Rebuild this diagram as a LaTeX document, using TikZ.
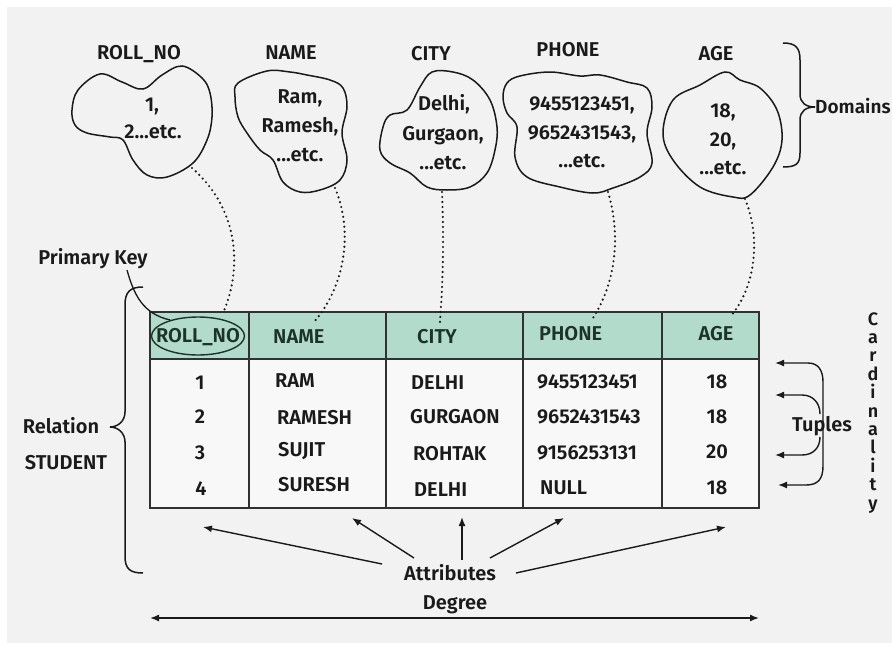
\documentclass[tikz,border=0pt]{standalone}
\usepackage{fontspec}
\IfFontExistsTF{Fira Sans SemiBold}{\setmainfont{Fira Sans SemiBold}}{\IfFontExistsTF{Fira Sans Medium}{\setmainfont{Fira Sans Medium}}{\setmainfont{Fira Sans}}}
\usetikzlibrary{arrows.meta,shapes.geometric}
\definecolor{bggray}{HTML}{F2F2F2}
\definecolor{hdrgreen}{HTML}{B3DBCB}
\definecolor{bodyw}{HTML}{F8F8F8}
\definecolor{ink}{HTML}{1A1A1A}
\definecolor{dgreen}{HTML}{1C3329}
\begin{document}
\begin{tikzpicture}[x=1pt,y=-1pt,
  lbl/.style={font=\fontsize{20}{24}\selectfont, text=ink, inner sep=0pt, text height=13.8pt, text depth=0pt},
  hdr/.style={lbl, text=dgreen},
  cardl/.style={font=\fontsize{18}{20}\selectfont, text=ink, inner sep=0pt, anchor=base},
  blob/.style={draw=ink, line width=1.5pt},
  dots/.style={draw=ink, line width=2.4pt, dash pattern=on 0pt off 5pt, line cap=round},
  tbl/.style={draw=ink!90, line width=1.6pt},
  arr/.style={draw=ink, line width=1.4pt, -{Latex[length=9pt,width=7pt]}},
  darr/.style={draw=ink, line width=1.4pt, {Latex[length=9pt,width=7pt]}-{Latex[length=9pt,width=7pt]}},
  brace/.style={draw=ink, line width=1.5pt},
]
\useasboundingbox (0,0) rectangle (892,645);
\fill[white] (0,0) rectangle (892,645);
\fill[bggray] (7,7) rectangle (892,643);

% ---------- domains ----------
\node[lbl] (dl1) at (139,53) {ROLL\_NO};
\node[lbl] (dl2) at (291,53) {NAME};
\node[lbl] (dl3) at (431,54) {CITY};
\node[lbl] (dl4) at (568,50) {PHONE};
\node[lbl] (dl5) at (716,54) {AGE};

\draw[blob] plot[smooth cycle, tension=0.6] coordinates {(72,110) (78,90) (100,74) (122,82) (143,89) (162,75) (182,66) (202,78) (210,93) (212,117) (207,140) (193,163) (167,177) (147,175) (133,160) (123,140) (110,137) (87,133) (75,125)};
\draw[blob] plot[smooth cycle, tension=0.6] coordinates {(238,83) (267,71) (290,72) (307,75) (330,80) (343,88) (347,107) (342,133) (347,160) (340,180) (320,190) (300,192) (283,182) (273,160) (260,150) (247,133) (238,117) (235,97)};
\draw[blob] plot[smooth cycle, tension=0.6] coordinates {(432,72) (420,87) (407,110) (390,115) (383,127) (380,150) (390,163) (410,173) (427,187) (447,190) (470,187) (487,173) (495,150) (497,127) (490,100) (473,80) (453,72)};
\draw[blob] plot[smooth cycle, tension=0.6] coordinates {(503,97) (507,83) (520,76) (550,72) (580,76) (600,75) (627,82) (647,88) (652,107) (647,133) (652,163) (640,177) (613,188) (593,193) (560,187) (527,177) (515,157) (517,127) (507,113)};
\draw[blob] plot[smooth cycle, tension=0.6] coordinates {(663,133) (673,100) (700,85) (725,72) (740,80) (760,88) (777,110) (782,140) (773,167) (750,195) (733,197) (700,187) (673,160)};

\node[lbl] (b1a) at (152,105) {1,};
\node[lbl] (b1b) at (153,132) {2...etc.};
\node[lbl] (b2a) at (300,97) {Ram,};
\node[lbl] (b2b) at (300,126) {Ramesh,};
\node[lbl] (b2c) at (300,155) {...etc.};
\node[lbl] (b3a) at (444,104) {Delhi,};
\node[lbl] (b3b) at (443,134) {Gurgaon,};
\node[lbl] (b3c) at (443,163) {...etc.};
\node[lbl] (b4a) at (582,104) {9455123451,};
\node[lbl] (b4b) at (582,133) {9652431543,};
\node[lbl] (b4c) at (582,161) {...etc.};
\node[lbl] (b5a) at (723,111) {18,};
\node[lbl] (b5b) at (723,140) {20,};
\node[lbl] (b5c) at (723,168) {...etc.};

% Domains brace
\draw[brace] (783,43) .. controls (796,43) and (800,48) .. (800,60) -- (800,94) .. controls (800,103) and (806,107) .. (815,107) .. controls (806,107) and (800,111) .. (800,120) -- (800,153) .. controls (800,164) and (796,167) .. (783,167);
\node[lbl, font=\fontsize{19}{23}\selectfont, anchor=west] (dom) at (815,107) {Domains};

% ---------- table ----------
\fill[hdrgreen] (150,312) rectangle (759,359);
\fill[bodyw] (150,359) rectangle (759,508);
\draw[tbl] (150,312) rectangle (759,508);
\draw[tbl] (150,359) -- (759,359);
\foreach \cx in {249,386,523,662} \draw[tbl] (\cx,312) -- (\cx,508);

\node[hdr] (h1) at (198,336) {ROLL\_NO};
\node[draw=dgreen, line width=1.4pt, ellipse, minimum width=93pt, minimum height=38pt, inner sep=0pt] (pk) at (198,336) {};
\node[hdr, anchor=west] (h2) at (273,337) {NAME};
\node[hdr, anchor=west] (h3) at (417,337) {CITY};
\node[hdr, anchor=west] (h4) at (539,334) {PHONE};
\node[hdr] (h5) at (716,334) {AGE};

\node[lbl] (r11) at (200,383) {1};
\node[lbl] (r21) at (200,417) {2};
\node[lbl] (r31) at (200,453) {3};
\node[lbl] (r41) at (201,489) {4};
\node[lbl, anchor=west] (r12) at (275,381) {RAM};
\node[lbl, anchor=west] (r22) at (277,418) {RAMESH};
\node[lbl, anchor=west] (r32) at (278,450) {SUJIT};
\node[lbl, anchor=west] (r42) at (278,485) {SURESH};
\node[lbl, anchor=west] (r13) at (411,383) {DELHI};
\node[lbl, anchor=west] (r23) at (410,417) {GURGAON};
\node[lbl, anchor=west] (r33) at (413,454) {ROHTAK};
\node[lbl, anchor=west] (r43) at (414,490) {DELHI};
\node[lbl, anchor=west] (r14) at (537,382) {9455123451};
\node[lbl, anchor=west] (r24) at (537,417) {9652431543};
\node[lbl, anchor=west] (r34) at (537,453) {9156253131};
\node[lbl, anchor=west] (r44) at (540,488) {NULL};
\node[lbl] (r15) at (717,382) {18};
\node[lbl] (r25) at (717,417) {18};
\node[lbl] (r35) at (717,452) {20};
\node[lbl] (r45) at (717,488) {18};

% ---------- dotted domain connectors ----------
\coordinate (d1) at (192,168); \coordinate (e1) at (223,313);
\coordinate (d2) at (335,188); \coordinate (e2) at (314,322);
\coordinate (d3) at (442,192); \coordinate (e3) at (440,322);
\coordinate (d4) at (608,192); \coordinate (e4) at (593,318);
\coordinate (d5) at (745,199); \coordinate (e5) at (730,317);
\draw[dots] (d1) .. controls (240,210) and (242,270) .. (e1);
\draw[dots] (d2) .. controls (353,230) and (346,285) .. (e2);
\draw[dots] (d3) .. controls (444,240) and (443,280) .. (e3);
\draw[dots] (d4) .. controls (621,235) and (616,282) .. (e4);
\draw[dots] (d5) .. controls (761,237) and (756,287) .. (e5);

% ---------- primary key ----------
\node[lbl] (pkl) at (93,258) {Primary Key};
\coordinate (pks) at (127,270);
\draw[draw=ink, line width=1.3pt] (pks) .. controls (134,295) and (143,314) .. (pk.150);

% ---------- relation brace ----------
\draw[brace] (143,287) .. controls (130,287) and (125,292) .. (125,305) -- (125,412) .. controls (125,421) and (118,427) .. (110,427) .. controls (118,427) and (125,433) .. (125,442) -- (125,556) .. controls (125,569) and (130,573) .. (143,573);
\node[lbl] (rel) at (61,427) {Relation};
\node[lbl] (stu) at (66,463) {STUDENT};

% ---------- tuples ----------
\coordinate (t1) at (775,363);
\coordinate (t2) at (775,395);
\coordinate (t3) at (775,455);
\coordinate (t4) at (778,485);
\draw[darr] (t1) -- (808,363) .. controls (818,363) and (823,370) .. (823,382) -- (823,466) .. controls (823,479) and (818,485) .. (806,485) -- (t4);
\draw[arr] (820,414) .. controls (820,403) and (813,395) .. (802,395) -- (t2);
\draw[arr] (820,437) .. controls (820,448) and (813,455) .. (802,455) -- (t3);
\node[lbl] (tup) at (822,425) {Tuples};

% ---------- cardinality ----------
\foreach \ch [count=\i] in {C,a,r,d,i,n,a,l,i,t,y}
  \node[cardl] (card\i) at (873,{325+(\i-1)*18.4}) {\ch};

% ---------- attributes ----------
\node[lbl] (attr) at (450,574) {Attributes};
\coordinate (as1) at (382,564); \coordinate (at1) at (203,527);
\coordinate (as2) at (414,558); \coordinate (at2) at (352,518);
\coordinate (as3) at (462,560); \coordinate (at3) at (462,517);
\coordinate (as4) at (490,558); \coordinate (at4) at (564,518);
\coordinate (as5) at (516,573); \coordinate (at5) at (726,527);
\foreach \k in {1,...,5} \draw[arr] (as\k) -- (at\k);

% ---------- degree ----------
\node[lbl] (deg) at (455,603) {Degree};
\coordinate (degl) at (150,618);
\coordinate (degr) at (759,618);
\draw[darr] (degl) -- (degr);
\end{tikzpicture}
\end{document}
